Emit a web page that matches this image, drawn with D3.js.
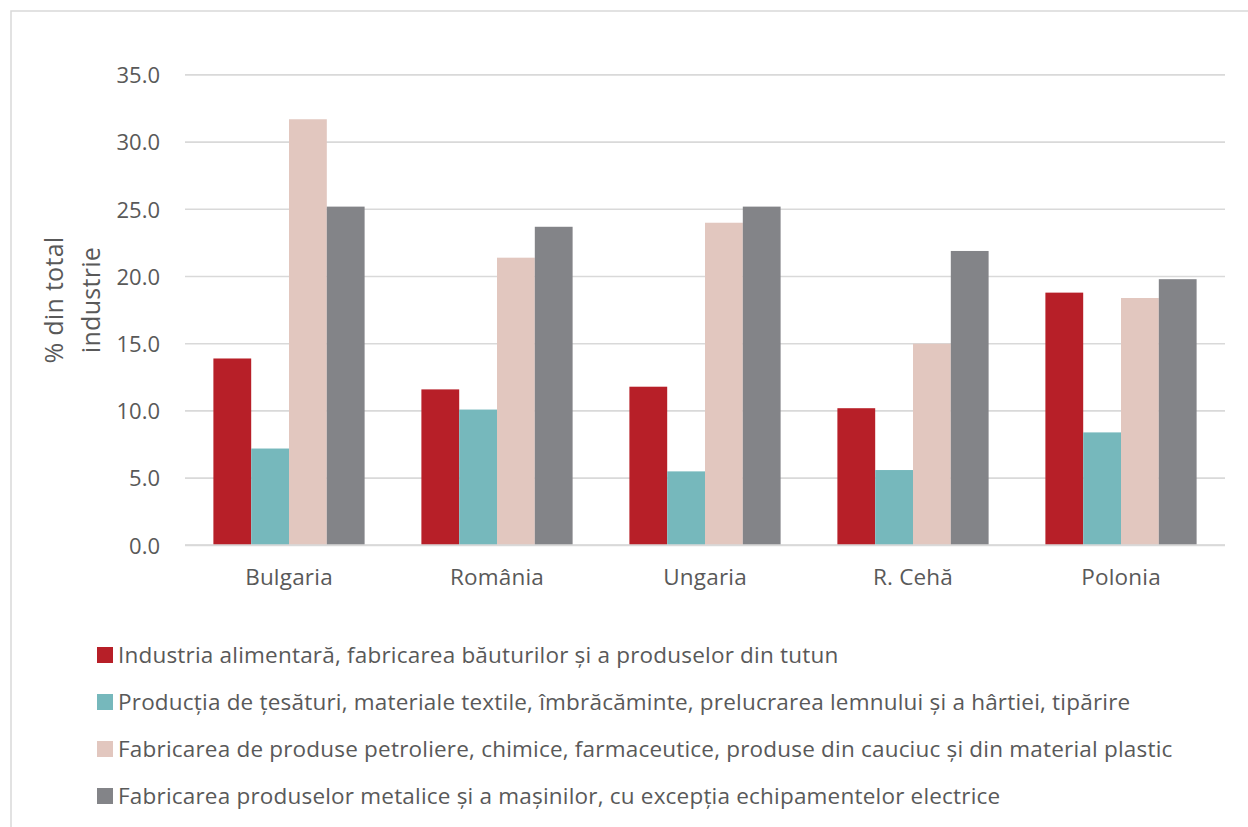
<!DOCTYPE html>
<html>
<head>
<meta charset="utf-8">
<script src="https://cdn.jsdelivr.net/npm/d3@7/dist/d3.min.js"></script>
<style>
  html, body { margin: 0; padding: 0; background: #fff; }
  svg { display: block; }
  text { font-family: "Open Sans", "Noto Sans", sans-serif; fill: #595959; }
</style>
</head>
<body>
<svg id="chart" width="1248" height="827"></svg>
<script>
// Countries along the x axis
const countries = ["Bulgaria", "România", "Ungaria", "R. Cehă", "Polonia"];

// Industry groups (legend order)
const seriesNames = [
  "Industria alimentară, fabricarea băuturilor și a produselor din tutun",
  "Producția de țesături, materiale textile, îmbrăcăminte, prelucrarea lemnului și a hârtiei, tipărire",
  "Fabricarea de produse petroliere, chimice, farmaceutice, produse din cauciuc și din material plastic",
  "Fabricarea produselor metalice și a mașinilor, cu excepția echipamentelor electrice"
];

// Share of total industry (%), one array per industry group, in country order
const alimentara = [13.9, 11.6, 11.8, 10.2, 18.8];
const textile    = [7.2, 10.1, 5.5, 5.6, 8.4];
const chimice    = [31.7, 21.4, 24.0, 15.0, 18.4];
const metalice   = [25.2, 23.7, 25.2, 21.9, 19.8];

const seriesColors = ["#B71F28", "#76B8BC", "#E2C7BF", "#838488"];

// y-axis ticks
const yTicks = [0, 5, 10, 15, 20, 25, 30, 35];

const seriesValues = [alimentara, textile, chimice, metalice];

const FONT = "'Open Sans', 'Noto Sans', sans-serif";
const svg = d3.select("#chart");

// Light frame around the chart area
svg.append("rect")
  .attr("x", 11).attr("y", 11)
  .attr("width", 1300).attr("height", 900)
  .attr("fill", "none")
  .attr("stroke", "#D9D9D9")
  .attr("stroke-width", 1.5);

const plot = { left: 185, right: 1225, top: 74.9, bottom: 545.3 };

const x = d3.scaleBand()
  .domain(countries)
  .range([plot.left, plot.right])
  .paddingInner(0.273)
  .paddingOuter(0.1365);

const xs = d3.scaleBand()
  .domain(d3.range(seriesNames.length))
  .range([0, x.bandwidth()])
  .padding(0);

const y = d3.scaleLinear()
  .domain([0, 35])
  .range([plot.bottom, plot.top]);

// Horizontal gridlines
svg.append("g")
  .selectAll("line")
  .data(yTicks)
  .join("line")
  .attr("x1", plot.left)
  .attr("x2", plot.right)
  .attr("y1", d => y(d))
  .attr("y2", d => y(d))
  .attr("stroke", "#D9D9D9")
  .attr("stroke-width", 1.6);

// Y axis tick labels
const yAxis = d3.axisLeft(y)
  .tickValues(yTicks)
  .tickFormat(d3.format(".1f"))
  .tickSize(0)
  .tickPadding(0);

const yg = svg.append("g")
  .attr("transform", `translate(160,0)`)
  .call(yAxis);
yg.select(".domain").remove();
yg.selectAll("text")
  .attr("font-size", 22)
  .attr("font-family", FONT)
  .attr("fill", "#595959")
  .attr("dy", "0.35em");

// Bars
const rows = [];
countries.forEach((c, i) => {
  seriesValues.forEach((vals, s) => rows.push({ country: c, s, v: vals[i] }));
});

svg.append("g")
  .selectAll("rect")
  .data(rows)
  .join("rect")
  .attr("x", d => x(d.country) + xs(d.s))
  .attr("y", d => y(d.v))
  .attr("width", xs.bandwidth())
  .attr("height", d => y(0) - y(d.v))
  .attr("fill", d => seriesColors[d.s]);

// Baseline
svg.append("line")
  .attr("x1", plot.left).attr("x2", plot.right)
  .attr("y1", y(0)).attr("y2", y(0))
  .attr("stroke", "#D9D9D9")
  .attr("stroke-width", 2);

// X axis category labels
const xAxis = d3.axisBottom(x).tickSize(0).tickPadding(0);
const xg = svg.append("g")
  .attr("transform", `translate(0,${y(0)})`)
  .call(xAxis);
xg.select(".domain").remove();
xg.selectAll("text")
  .attr("font-size", 22.5)
  .attr("letter-spacing", 0.2)
  .attr("font-family", FONT)
  .attr("fill", "#595959")
  .attr("y", 40)
  .attr("dy", 0);

// Y axis title (two lines, rotated)
const yTitle = svg.append("text")
  .attr("transform", "translate(0,300) rotate(-90)")
  .attr("text-anchor", "middle")
  .attr("font-size", 25)
  .attr("letter-spacing", 0.3);
yTitle.append("tspan").attr("x", 0).attr("y", 63).text("% din total");
yTitle.append("tspan").attr("x", 0).attr("y", 100).text("industrie");

// Legend
const legend = svg.append("g")
  .selectAll("g")
  .data(seriesNames)
  .join("g")
  .attr("transform", (d, i) => `translate(97,${655 + i * 47})`);

legend.append("rect")
  .attr("x", 0).attr("y", -8)
  .attr("width", 16).attr("height", 16)
  .attr("fill", (d, i) => seriesColors[i]);

legend.append("text")
  .attr("x", 21)
  .attr("y", 0)
  .attr("dy", "0.35em")
  .attr("font-size", 22.5)
  .attr("letter-spacing", 0.2)
  .text(d => d);
</script>
</body>
</html>
